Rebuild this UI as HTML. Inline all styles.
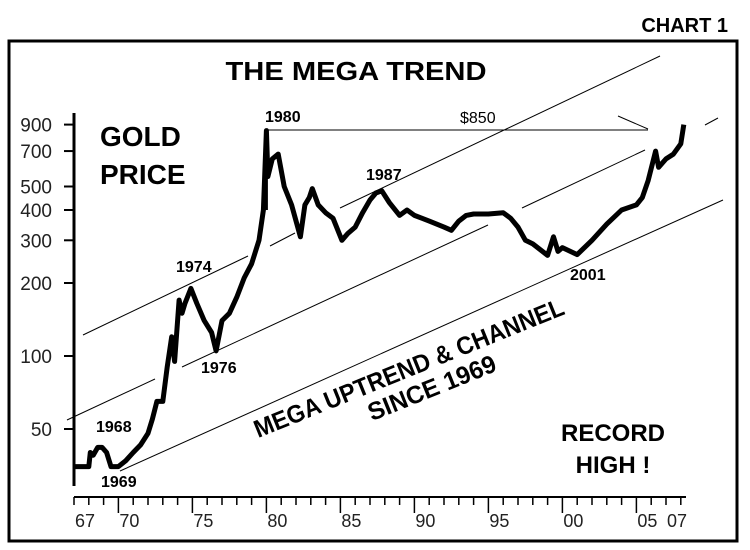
<!DOCTYPE html>
<html><head><meta charset="utf-8"><style>
html,body{margin:0;padding:0;background:#fff;}
svg{display:block;font-family:"Liberation Sans",Arial,sans-serif;}
</style></head><body>
<svg id="chart" width="750" height="550" viewBox="0 0 750 550">
<rect x="0" y="0" width="750" height="550" fill="#fff"/>
<text x="728" y="32" text-anchor="end" font-size="20" font-weight="bold">CHART 1</text>
<rect x="9" y="41" width="728" height="500" fill="none" stroke="#000" stroke-width="3"/>
<text x="356" y="80" text-anchor="middle" font-size="26" font-weight="bold" textLength="261" lengthAdjust="spacingAndGlyphs">THE MEGA TREND</text>
<text x="100" y="146" font-size="28" font-weight="bold">GOLD</text>
<text x="100" y="184" font-size="28" font-weight="bold">PRICE</text>
<g id="trend" stroke="#000" stroke-width="1" fill="none">
<line x1="83" y1="335" x2="248" y2="256"/>
<line x1="270" y1="246" x2="295" y2="233"/>
<line x1="340" y1="208" x2="660" y2="56"/>
<line x1="67" y1="420" x2="155" y2="379"/>
<line x1="182" y1="367" x2="488" y2="225"/>
<line x1="522" y1="208" x2="645" y2="150"/>
<line x1="705" y1="125" x2="718" y2="118"/>
<line x1="120" y1="471" x2="723" y2="200"/>
<line x1="266" y1="130" x2="648" y2="130"/>
<line x1="618" y1="116" x2="648" y2="129"/>
</g>
<g id="axes"></g>
<path id="series" fill="none" stroke="#000" stroke-width="5" stroke-linejoin="round"/>
<line id="peak" stroke="#000" stroke-width="3"/>
<text x="265" y="122" font-size="16" font-weight="bold">1980</text>
<text x="460" y="123" font-size="16">$850</text>
<text x="366" y="180" font-size="16" font-weight="bold">1987</text>
<text x="176" y="272" font-size="16" font-weight="bold">1974</text>
<text x="201" y="373" font-size="16" font-weight="bold">1976</text>
<text x="96" y="432" font-size="16" font-weight="bold">1968</text>
<text x="101" y="487" font-size="16" font-weight="bold">1969</text>
<text x="570" y="280" font-size="16" font-weight="bold">2001</text>
<g transform="translate(412,376) rotate(-22)">
<text x="0" y="0" text-anchor="middle" font-size="25" font-weight="bold" textLength="332" lengthAdjust="spacingAndGlyphs">MEGA UPTREND &amp; CHANNEL</text>
<text x="14" y="27" text-anchor="middle" font-size="25" font-weight="bold" textLength="136" lengthAdjust="spacingAndGlyphs">SINCE 1969</text>
</g>
<text x="613" y="441" text-anchor="middle" font-size="24" font-weight="bold">RECORD</text>
<text x="613" y="473" text-anchor="middle" font-size="24" font-weight="bold">HIGH !</text>
</svg>
<script>
const years = [1967.0,1968.0,1968.1,1968.3,1968.6,1968.9,1969.2,1969.5,1970.0,1970.5,1971.0,1971.5,1972.0,1972.3,1972.6,1973.0,1973.3,1973.6,1973.8,1974.1,1974.3,1974.5,1974.9,1975.3,1975.8,1976.3,1976.6,1977.0,1977.5,1978.0,1978.5,1979.0,1979.5,1979.8,1980.0,1980.1,1980.4,1980.8,1981.2,1981.7,1982.3,1982.6,1982.9,1983.1,1983.5,1984.0,1984.5,1985.1,1985.5,1986.0,1986.5,1987.0,1987.4,1987.8,1988.3,1989.0,1989.5,1990.0,1990.5,1991.0,1991.5,1992.0,1992.5,1993.0,1993.5,1994.0,1995.0,1996.0,1996.5,1997.0,1997.5,1998.0,1999.0,1999.4,1999.7,2000.0,2001.0,2002.0,2003.0,2004.0,2005.0,2005.4,2005.8,2006.3,2006.5,2007.0,2007.5,2008.0,2008.2];
const prices = [35,35,40,39,42,42,40,35,35,37,40,43,48,55,65,65,90,120,95,170,150,165,190,165,140,125,105,140,150,175,210,240,300,400,850,550,650,680,500,420,310,420,450,490,420,390,370,300,320,340,390,440,470,480,430,380,400,380,370,360,350,340,330,360,380,385,385,390,370,340,300,290,260,310,270,280,262,300,350,400,420,450,530,700,600,650,680,750,900];
const yTicks = [50,100,200,300,400,500,700,900];
const xLabels = ["67","70","75","80","85","90","95","00","05","07"];
const xLabelYears = [1967,1970,1975,1980,1985,1990,1995,2000,2005,2007];
const longTickYears = [1970,1975,1980,1985,1990,1995,2000,2005];
const NS="http://www.w3.org/2000/svg";
function xs(y){return 74+(y-1967)*14.8;}
function ys(p){return 356-(Math.log10(p)-2)*242.5;}
const ax=document.getElementById('axes');
function mk(tag,attrs,parent){const e=document.createElementNS(NS,tag);for(const k in attrs)e.setAttribute(k,attrs[k]);(parent||ax).appendChild(e);return e;}
let e=mk('line',{x1:74,y1:113,x2:74,y2:486,stroke:'#000','stroke-width':3});


yTicks.forEach(t=>{
 const y=ys(t);
 let l=mk('line',{x1:64,y1:y,x2:74,y2:y,stroke:'#000','stroke-width':2});
 
 
 let tx=mk('text',{x:52,y:y+7,'text-anchor':'end','font-size':19,fill:'#222'});
 tx.textContent=t;
 
 
});
e=mk('line',{x1:74,y1:497,x2:686,y2:497,stroke:'#000','stroke-width':2});


for(let yr=1967;yr<=2008;yr++){
 const x=xs(yr);
 const long=longTickYears.includes(yr);
 let l=mk('line',{x1:x,y1:497,x2:x,y2:long?513:505,stroke:'#000','stroke-width':1.5});
 
 
}
xLabels.forEach((s,i)=>{
 let tx=mk('text',{x:xs(xLabelYears[i])+1,y:527,'font-size':18,fill:'#222'});
 tx.textContent=s;
 
 
});
let d='';
years.forEach((yr,i)=>{d+=(i?'L':'M')+xs(yr).toFixed(1)+','+ys(prices[i]).toFixed(1);});
document.getElementById('series').setAttribute('d',d);
const pk=document.getElementById('peak');
const pi=prices.indexOf(Math.max(...prices.slice(0,40)));
pk.setAttribute('x1',xs(years[pi]));pk.setAttribute('x2',xs(years[pi]));
pk.setAttribute('y1',ys(prices[pi]));pk.setAttribute('y2',ys(prices[pi-1]));
</script>
</body></html>
